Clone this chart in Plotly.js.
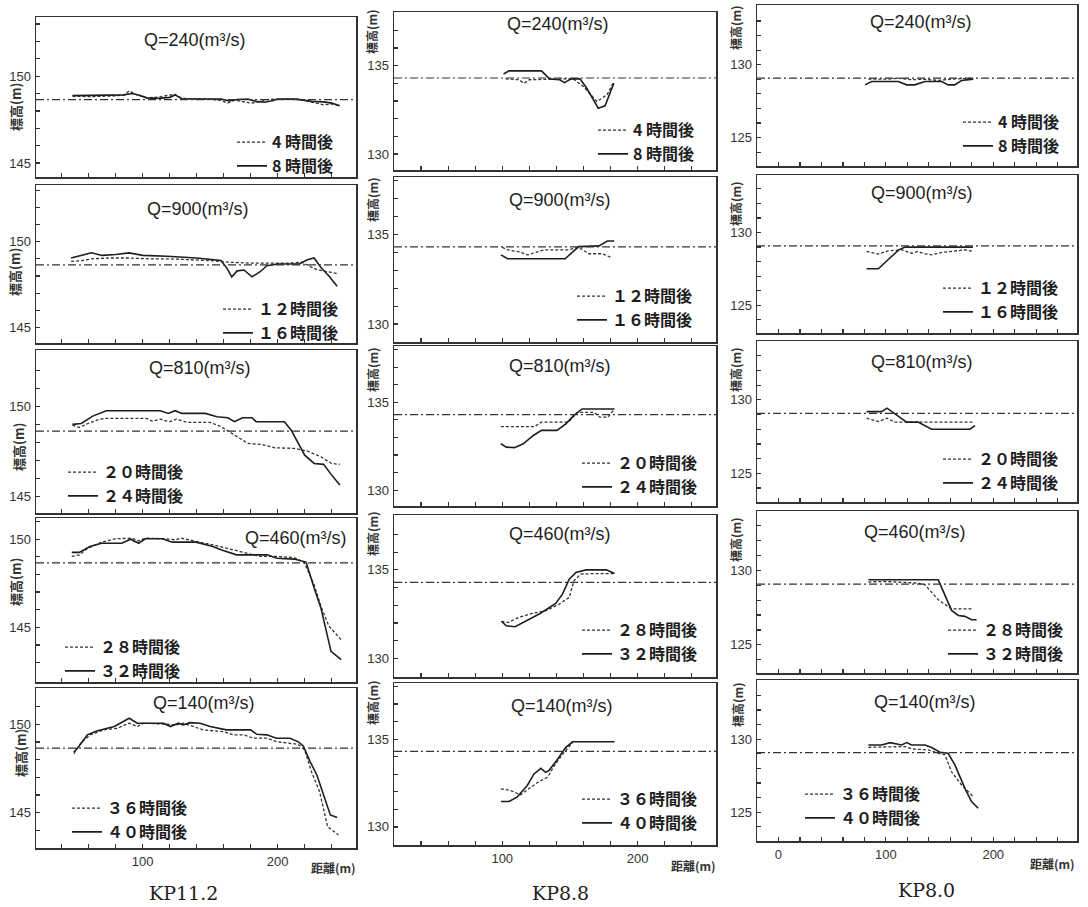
<!DOCTYPE html>
<html><head><meta charset="utf-8">
<script src="https://cdn.plot.ly/plotly-3.0.1.min.js"></script>
<style>html,body{margin:0;padding:0;background:#fff;}#chart{width:1088px;height:907px;}</style>
</head><body><div id="chart"></div><script>
// ---------------- labels ----------------
const sectionLabels = ['KP11.2', 'KP8.8', 'KP8.0'];
const dischargeLabels = ['Q=240(m³/s)', 'Q=900(m³/s)', 'Q=810(m³/s)', 'Q=460(m³/s)', 'Q=140(m³/s)'];
const earlierLabels = ['4 時間後', '１２時間後', '２０時間後', '２８時間後', '３６時間後'];
const laterLabels = ['8 時間後', '１６時間後', '２４時間後', '３２時間後', '４０時間後'];
const refLevels = [148.65, 134.3, 129.08];
const yTickLabels = [[145, 150], [130, 135], [125, 130]];
const xTickLabels = [[100, 200], [100, 200], [0, 100, 200]];
const yTitle = '標高(m)';
const xTitle = '距離(m)';

// ---------------- KP11.2 ----------------
const kp112_q240_4h_x = [48, 60, 75, 86, 90, 95, 103, 112, 119, 124, 129, 140, 150, 158, 163, 168, 174, 180, 186, 192, 200, 212, 220, 228, 234, 240, 245];
const kp112_q240_4h_y = [148.85, 148.82, 148.85, 148.9, 149.15, 148.95, 148.75, 148.8, 148.9, 148.95, 148.72, 148.68, 148.68, 148.6, 148.45, 148.62, 148.55, 148.45, 148.5, 148.65, 148.68, 148.68, 148.6, 148.45, 148.35, 148.4, 148.3];
const kp112_q240_8h_x = [48, 70, 86, 92, 97, 103, 112, 120, 124, 129, 145, 158, 164, 170, 178, 184, 190, 196, 200, 214, 225, 234, 240, 246];
const kp112_q240_8h_y = [148.88, 148.88, 148.92, 149.0, 148.92, 148.75, 148.72, 148.78, 148.92, 148.7, 148.68, 148.68, 148.58, 148.66, 148.68, 148.55, 148.5, 148.58, 148.68, 148.68, 148.55, 148.52, 148.45, 148.3];

const kp112_q900_12h_x = [47, 55, 62, 75, 90, 105, 120, 135, 150, 165, 180, 195, 208, 218, 224, 230, 236, 244];
const kp112_q900_12h_y = [148.85, 148.9, 149.0, 149.05, 149.05, 149.0, 149.0, 148.95, 148.9, 148.8, 148.75, 148.75, 148.75, 148.8, 148.55, 148.35, 148.25, 148.15];
const kp112_q900_16h_x = [47, 55, 62, 70, 80, 90, 100, 118, 140, 158, 162, 166, 170, 175, 181, 187, 192, 200, 216, 222, 227, 232, 238, 244];
const kp112_q900_16h_y = [149.05, 149.2, 149.35, 149.2, 149.25, 149.35, 149.2, 149.15, 149.05, 148.9, 148.5, 147.95, 148.3, 148.35, 147.95, 148.25, 148.6, 148.7, 148.7, 148.95, 149.05, 148.5, 148.0, 147.4];

const kp112_q810_20h_x = [48, 53, 59.5, 68, 73, 103, 107, 113, 120, 125, 133, 150, 158, 168, 178, 188, 198, 212, 222, 232, 240, 246];
const kp112_q810_20h_y = [148.98, 148.85, 149.07, 149.31, 149.35, 149.35, 149.2, 149.31, 149.17, 149.31, 149.13, 149.13, 148.9, 148.43, 147.96, 147.91, 147.72, 147.69, 147.54, 147.22, 146.85, 146.8];
const kp112_q810_24h_x = [48, 54.5, 63, 73, 113, 119, 124, 129, 146.5, 155, 163, 168, 174, 181, 184, 205, 210, 215, 220, 227, 234, 239, 246];
const kp112_q810_24h_y = [149.02, 149.07, 149.48, 149.78, 149.78, 149.63, 149.78, 149.63, 149.63, 149.44, 149.39, 149.17, 149.39, 149.39, 149.17, 149.17, 148.7, 147.96, 147.31, 146.85, 146.8, 146.3, 145.65];

const kp112_q460_28h_x = [47.5, 53, 59.5, 69.5, 79.5, 92, 97, 102, 117, 124.5, 128, 139.5, 152, 172, 182, 187, 199.5, 212, 219.5, 227, 232, 238, 247];
const kp112_q460_28h_y = [149.02, 149.11, 149.49, 149.83, 150.02, 150.06, 149.9, 150.06, 150.02, 149.96, 150.06, 149.87, 149.68, 149.3, 149.11, 149.02, 149.02, 148.96, 148.7, 147.42, 146.2, 145.06, 144.3];
const kp112_q460_32h_x = [47.5, 53, 61, 69.5, 84.5, 91, 97, 102, 114.5, 122, 139.5, 152, 158, 169.5, 192, 199.5, 212, 221, 227, 232, 239.5, 247];
const kp112_q460_32h_y = [149.25, 149.25, 149.58, 149.77, 149.77, 150.0, 149.77, 150.02, 150.02, 149.83, 149.83, 149.58, 149.4, 149.11, 149.11, 148.92, 148.87, 148.7, 147.23, 146.1, 143.64, 143.17];

const kp112_q140_36h_x = [49, 54, 61, 71, 81, 90, 96, 101, 118, 125, 130, 140, 145, 160, 167, 175, 182, 192, 199, 209, 215, 220, 225, 231, 237, 245];
const kp112_q140_36h_y = [148.34, 148.92, 149.4, 149.68, 149.77, 150.06, 149.87, 150.06, 150.0, 149.96, 150.06, 149.81, 149.68, 149.58, 149.4, 149.4, 149.21, 149.21, 149.02, 148.92, 148.87, 148.55, 147.32, 146.19, 144.2, 143.74];
const kp112_q140_40h_x = [49, 53, 59, 66, 79, 90, 96, 101, 115.5, 120.5, 126.5, 130, 135, 142.5, 150, 162, 180, 184.5, 192, 199, 209, 215, 219, 224, 229, 239, 244];
const kp112_q140_40h_y = [148.42, 148.77, 149.4, 149.62, 149.87, 150.34, 150.06, 150.06, 150.06, 149.87, 150.06, 149.96, 150.09, 150.06, 149.87, 149.68, 149.68, 149.43, 149.4, 149.21, 149.21, 149.02, 148.77, 147.89, 147.13, 144.87, 144.72];

// ---------------- KP8.8 ----------------
const kp88_q240_4h_x = [102.5, 112.5, 116, 120, 145, 152.5, 160, 170, 177.5, 182.5];
const kp88_q240_4h_y = [134.25, 134.2, 134.0, 134.2, 134.25, 134.25, 133.82, 132.97, 133.35, 134.1];
const kp88_q240_8h_x = [101, 105, 129, 135, 142.5, 146, 151, 157.5, 162.5, 171, 176, 182.5];
const kp88_q240_8h_y = [134.53, 134.7, 134.7, 134.25, 134.2, 134.04, 134.25, 134.25, 133.72, 132.59, 132.73, 134.0];

const kp88_q900_12h_x = [100, 104, 111.5, 119, 126.5, 131.5, 149, 156.5, 164, 174, 180];
const kp88_q900_12h_y = [134.28, 134.14, 134.04, 133.86, 134.04, 134.14, 134.14, 134.28, 133.92, 133.92, 133.73];
const kp88_q900_16h_x = [99, 104, 146.5, 156.5, 171.5, 177.8, 182.8];
const kp88_q900_16h_y = [133.86, 133.64, 133.64, 134.32, 134.36, 134.63, 134.63];

const kp88_q810_20h_x = [99, 124, 129, 149, 155.5, 168, 172, 178, 182];
const kp88_q810_20h_y = [133.62, 133.62, 133.87, 133.87, 134.43, 134.43, 134.15, 134.15, 134.53];
const kp88_q810_24h_x = [99, 103, 109, 115.5, 123, 129, 140.5, 147, 153, 159, 183];
const kp88_q810_24h_y = [132.64, 132.45, 132.42, 132.64, 133.11, 133.4, 133.4, 133.77, 134.25, 134.62, 134.62];

const kp88_q460_28h_x = [99.5, 104.5, 112, 122, 132, 142, 149.5, 153, 158, 167, 182];
const kp88_q460_28h_y = [132.09, 132.03, 132.31, 132.54, 132.69, 133.06, 133.44, 134.38, 134.76, 134.79, 134.79];
const kp88_q460_32h_x = [99.5, 103, 109.5, 117, 128, 139.5, 144.5, 149.5, 154.5, 162, 177, 183];
const kp88_q460_32h_y = [132.09, 131.84, 131.79, 132.09, 132.54, 133.1, 133.63, 134.47, 134.85, 135.0, 135.0, 134.79];

const kp88_q140_36h_x = [99, 106, 113.5, 121, 127, 133.5, 138.5, 146, 152];
const kp88_q140_36h_y = [132.17, 132.08, 131.83, 132.26, 132.58, 132.83, 133.49, 134.28, 134.81];
const kp88_q140_40h_x = [99, 105, 111, 118.5, 123.5, 128.5, 132, 134.5, 141, 147, 152, 166, 183];
const kp88_q140_40h_y = [131.45, 131.45, 131.7, 132.36, 133.02, 133.34, 133.11, 133.21, 133.87, 134.53, 134.85, 134.85, 134.85];

// ---------------- KP8.0 ----------------
const kp80_q240_4h_x = [83.7, 102, 111.6, 124, 136.4, 148.8, 161, 181.4];
const kp80_q240_4h_y = [129.01, 129.01, 129.08, 128.97, 129.01, 128.92, 129.01, 129.08];
const kp80_q240_8h_x = [80.6, 86.8, 111.6, 119.4, 127, 136.4, 152, 158, 164, 170.5, 181.4];
const kp80_q240_8h_y = [128.62, 128.85, 128.85, 128.62, 128.62, 128.85, 128.85, 128.62, 128.62, 128.92, 129.01];

const kp80_q900_12h_x = [82, 93, 102, 115, 124, 130, 136, 143, 152, 164, 174, 181];
const kp80_q900_12h_y = [128.7, 128.52, 128.74, 128.81, 128.58, 128.7, 128.54, 128.47, 128.63, 128.7, 128.81, 128.7];
const kp80_q900_16h_x = [82, 93, 102, 112, 118, 181];
const kp80_q900_16h_y = [127.51, 127.51, 128.13, 128.81, 129.0, 129.0];

const kp80_q810_20h_x = [82, 93, 101, 108.5, 136, 181];
const kp80_q810_20h_y = [128.75, 128.52, 128.75, 128.48, 128.48, 128.48];
const kp80_q810_24h_x = [82, 96, 101, 105.5, 119.4, 130, 142.6, 178.3, 183];
const kp80_q810_24h_y = [129.2, 129.2, 129.43, 129.2, 128.48, 128.48, 128.0, 128.0, 128.25];

const kp80_q460_28h_x = [83.7, 99, 130, 136.4, 148.8, 161, 181.4];
const kp80_q460_28h_y = [129.22, 129.26, 129.15, 129.04, 128.03, 127.42, 127.42];
const kp80_q460_32h_x = [83.7, 148.8, 161.2, 167.4, 173.6, 179.8, 184.5];
const kp80_q460_32h_y = [129.37, 129.37, 127.31, 126.97, 126.91, 126.68, 126.68];

const kp80_q140_36h_x = [83.7, 105, 118, 124, 139.5, 148.8, 155, 161, 170.5, 181.4];
const kp80_q140_36h_y = [129.45, 129.5, 129.5, 129.34, 129.27, 129.04, 128.93, 127.79, 126.87, 126.07];
const kp80_q140_40h_x = [83.7, 96, 104, 114.7, 119.4, 124, 136.4, 142.6, 150.4, 158, 164.3, 173.6, 179.8, 186];
const kp80_q140_40h_y = [129.61, 129.61, 129.77, 129.61, 129.77, 129.61, 129.61, 129.43, 129.11, 129.04, 128.24, 126.64, 125.73, 125.27];

// panels[col][row] = [earlier x, earlier y, later x, later y]
const panels = [
  [[kp112_q240_4h_x, kp112_q240_4h_y, kp112_q240_8h_x, kp112_q240_8h_y],
   [kp112_q900_12h_x, kp112_q900_12h_y, kp112_q900_16h_x, kp112_q900_16h_y],
   [kp112_q810_20h_x, kp112_q810_20h_y, kp112_q810_24h_x, kp112_q810_24h_y],
   [kp112_q460_28h_x, kp112_q460_28h_y, kp112_q460_32h_x, kp112_q460_32h_y],
   [kp112_q140_36h_x, kp112_q140_36h_y, kp112_q140_40h_x, kp112_q140_40h_y]],
  [[kp88_q240_4h_x, kp88_q240_4h_y, kp88_q240_8h_x, kp88_q240_8h_y],
   [kp88_q900_12h_x, kp88_q900_12h_y, kp88_q900_16h_x, kp88_q900_16h_y],
   [kp88_q810_20h_x, kp88_q810_20h_y, kp88_q810_24h_x, kp88_q810_24h_y],
   [kp88_q460_28h_x, kp88_q460_28h_y, kp88_q460_32h_x, kp88_q460_32h_y],
   [kp88_q140_36h_x, kp88_q140_36h_y, kp88_q140_40h_x, kp88_q140_40h_y]],
  [[kp80_q240_4h_x, kp80_q240_4h_y, kp80_q240_8h_x, kp80_q240_8h_y],
   [kp80_q900_12h_x, kp80_q900_12h_y, kp80_q900_16h_x, kp80_q900_16h_y],
   [kp80_q810_20h_x, kp80_q810_20h_y, kp80_q810_24h_x, kp80_q810_24h_y],
   [kp80_q460_28h_x, kp80_q460_28h_y, kp80_q460_32h_x, kp80_q460_32h_y],
   [kp80_q140_36h_x, kp80_q140_36h_y, kp80_q140_40h_x, kp80_q140_40h_y]]
];

// ---------------- layout geometry (pixels) ----------------
const W = 1088, H = 907;
const fx = p => p / W, fy = p => 1 - p / H;
const colPx = [[36, 356], [394, 716], [757, 1077]];
const rowPx = [
  [[17, 177], [185, 343], [350, 513], [518, 682], [688, 848]],
  [[12, 170], [177, 342], [346, 506], [515, 677], [683, 845]],
  [[5, 166], [175, 333], [341, 502], [511, 673], [680, 841]]
];
const yRanges = [
  [[144.2, 153.4], [144.1, 153.3], [144.1, 153.15], [141.9, 151.2], [143.0, 152.05]],
  [[129.1, 138.03], [129.0, 138.2], [129.1, 138.2], [128.95, 138.1], [128.97, 138.2]],
  [[123.05, 134.1], [123.1, 133.95], [123.05, 134.0], [123.1, 134.0], [123.03, 134.06]]
];
const xRanges = [[21, 258], [20, 258], [-20, 278]];
const xTickStart = [40, 40, 0], xTickEnd = [240, 240, 260];
const titlePos = [
  [[195, 40], [198, 209], [200, 368], [296, 538], [204, 703]],
  [[558, 24], [560, 200], [560, 366], [560, 534], [562, 706]],
  [[921, 22], [922, 193], [922, 362], [915, 532], [925, 702]]
];
const yTitlePos = [
  [[15, 107], [15, 272], [18, 447], [15, 582], [20, 753]],
  [[372, 32], [372, 200], [372, 370], [372, 534], [372, 703]],
  [[735, 28], [735, 204], [735, 370], [735, 540], [737, 705]]
];
// legend: [text start x, mid y of two rows]
const legendPos = [
  [[272, 154], [258, 321], [103, 484], [100, 659], [107, 820]],
  [[633, 142], [612, 308], [617, 475], [617, 642], [617, 811]],
  [[998, 134], [978, 300], [978, 471], [983, 642], [840, 806]]
];
const xTitlePos = [[333, 867], [693, 865], [1052, 863]];
const sectionPos = [[183, 893], [560, 893], [926, 890]];

const inkDark = '#1e1e1e', inkMid = '#333333';
const traces = [], shapes = [], annotations = [];
const layout = {
  width: W, height: H, margin: {l: 0, r: 0, t: 0, b: 0},
  paper_bgcolor: '#ffffff', plot_bgcolor: '#ffffff',
  showlegend: true, font: {family: 'Liberation Sans', color: inkMid}
};

for (let c = 0; c < 3; c++) {
  for (let r = 0; r < 5; r++) {
    const n = r * 3 + c + 1;
    const s = n === 1 ? '' : String(n);
    const [ax, ay, bx, by] = panels[c][r];
    const legName = 'legend' + s;
    traces.push({
      type: 'scatter', mode: 'lines', x: ax, y: ay, xaxis: 'x' + s, yaxis: 'y' + s,
      name: earlierLabels[r], legend: legName,
      line: {color: inkMid, width: 1.3, dash: '3px,2px'}
    });
    traces.push({
      type: 'scatter', mode: 'lines', x: bx, y: by, xaxis: 'x' + s, yaxis: 'y' + s,
      name: laterLabels[r], legend: legName,
      line: {color: inkDark, width: 1.6}
    });
    // y ticks
    const [ylo, yhi] = yRanges[c][r];
    const yv = [], yt = [];
    for (let v = Math.ceil(ylo + 0.2); v <= Math.floor(yhi - 0.2); v++) {
      yv.push(v); yt.push(yTickLabels[c].includes(v) ? String(v) : '');
    }
    const xv = [], xt = [];
    for (let v = xTickStart[c]; v <= xTickEnd[c]; v += 20) {
      xv.push(v); xt.push(r === 4 && xTickLabels[c].includes(v) ? String(v) : '');
    }
    const common = {
      showline: true, mirror: true, linecolor: inkMid, linewidth: 1.5,
      ticks: 'inside', ticklen: 4, tickwidth: 1.2, tickcolor: inkMid,
      showgrid: false, zeroline: false, tickmode: 'array', fixedrange: true,
      tickfont: {family: 'Liberation Sans', size: 13, color: inkMid}
    };
    layout['xaxis' + s] = Object.assign({}, common, {
      domain: [fx(colPx[c][0]), fx(colPx[c][1])], range: xRanges[c],
      anchor: 'y' + s, tickvals: xv, ticktext: xt, ticklabelstandoff: 1
    });
    layout['yaxis' + s] = Object.assign({}, common, {
      domain: [fy(rowPx[c][r][1]), fy(rowPx[c][r][0])], range: yRanges[c][r],
      anchor: 'x' + s, tickvals: yv, ticktext: yt, ticklabelstandoff: 1
    });
    // reference water level (dash-dot)
    shapes.push({
      type: 'line', xref: 'x' + s + ' domain', x0: 0, x1: 1,
      yref: 'y' + s, y0: refLevels[c], y1: refLevels[c],
      line: {color: inkMid, width: 1.2, dash: '8px,3px,2px,3px'}
    });
    // legend
    const [lx, lmid] = legendPos[c][r];
    layout[legName] = {
      x: fx(lx - 40), y: fy(lmid - 28.8), xanchor: 'left', yanchor: 'top',
      bgcolor: 'rgba(0,0,0,0)', borderwidth: 0, tracegroupgap: 0, traceorder: 'normal',
      font: {family: 'Noto Sans CJK JP', size: 16, color: inkDark, weight: 700}
    };
    // panel title
    annotations.push({
      xref: 'paper', yref: 'paper', x: fx(titlePos[c][r][0]), y: fy(titlePos[c][r][1]),
      xanchor: 'center', yanchor: 'middle', showarrow: false, text: dischargeLabels[r],
      font: {family: 'Liberation Sans', size: 18, color: inkDark}
    });
    // y title
    annotations.push({
      xref: 'paper', yref: 'paper', x: fx(yTitlePos[c][r][0]), y: fy(yTitlePos[c][r][1]),
      xanchor: 'center', yanchor: 'middle', showarrow: false, text: yTitle, textangle: -90,
      font: {family: 'Noto Sans CJK JP', size: c === 0 ? 13 : 12, color: inkMid, weight: 700}
    });
  }
  annotations.push({
    xref: 'paper', yref: 'paper', x: fx(xTitlePos[c][0]), y: fy(xTitlePos[c][1]),
    xanchor: 'center', yanchor: 'middle', showarrow: false, text: xTitle,
    font: {family: 'Noto Sans CJK JP', size: 12, color: inkMid, weight: 700}
  });
  annotations.push({
    xref: 'paper', yref: 'paper', x: fx(sectionPos[c][0]), y: fy(sectionPos[c][1]),
    xanchor: 'center', yanchor: 'middle', showarrow: false, text: sectionLabels[c],
    font: {family: 'DejaVu Serif', size: 19, color: inkDark}
  });
}
layout.shapes = shapes;
layout.annotations = annotations;
Plotly.newPlot('chart', traces, layout, {displayModeBar: false, staticPlot: true});
</script></body></html>
